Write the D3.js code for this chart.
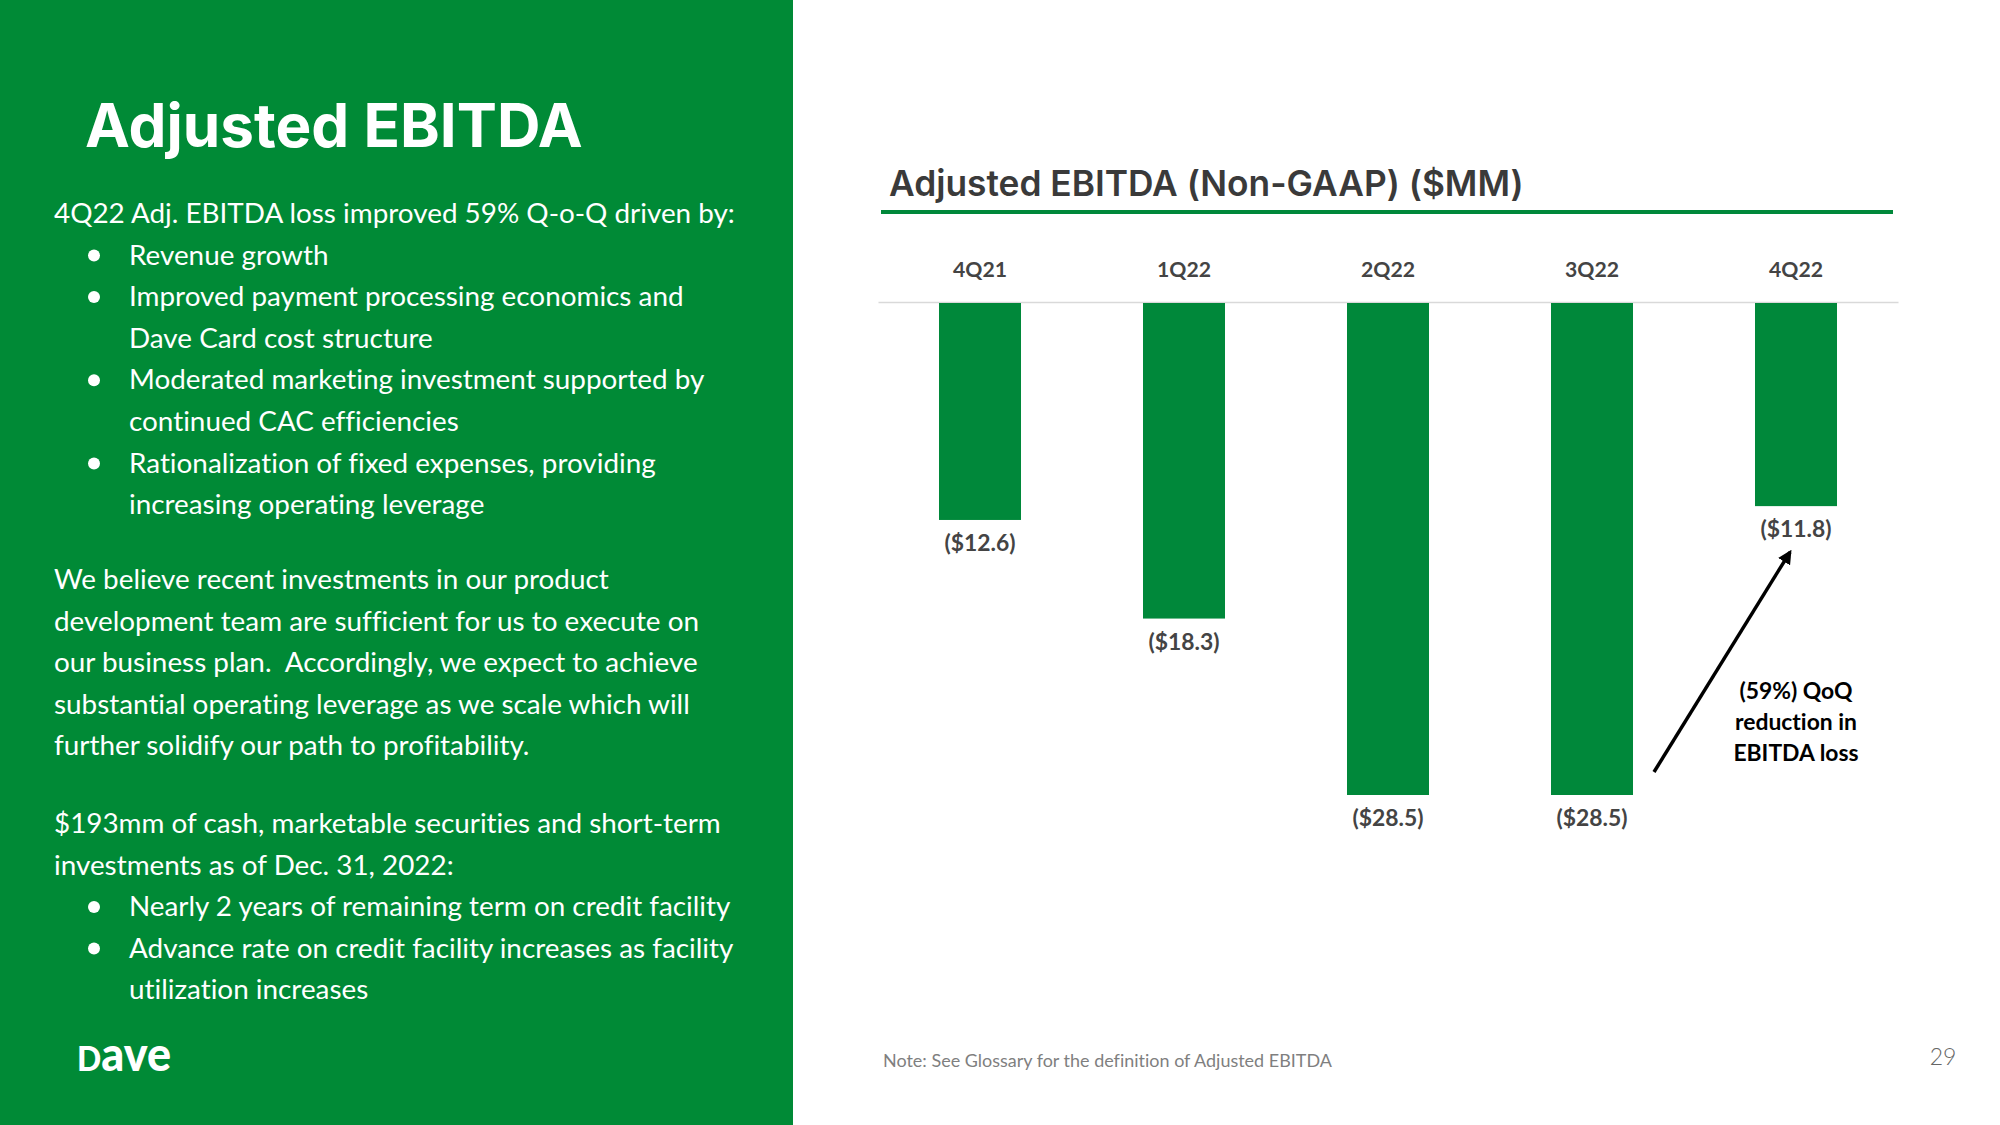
<!DOCTYPE html>
<html>
<head>
<meta charset="utf-8">
<script src="https://cdn.jsdelivr.net/npm/d3@7"></script>
<style>
  html, body { margin: 0; padding: 0; background: #ffffff; }
  svg { display: block; }
  text { font-variant-ligatures: none; font-feature-settings: "liga" 0, "dlig" 0; white-space: pre; }
</style>
</head>
<body>
<svg id="chart" width="2000" height="1125"></svg>
<script>
// ---------- data ----------
const categories = ["4Q21", "1Q22", "2Q22", "3Q22", "4Q22"];
const values = [-12.6, -18.3, -28.5, -28.5, -11.8];
const valueLabels = ["($12.6)", "($18.3)", "($28.5)", "($28.5)", "($11.8)"];
const chartTitle = "Adjusted EBITDA (Non-GAAP) ($MM)";
const pageTitle = "Adjusted EBITDA";
const annotationLines = ["(59%) QoQ", "reduction in", "EBITDA loss"];
const noteText = "Note: See Glossary for the definition of Adjusted EBITDA";
const pageNumber = "29";
const para1Lead = "4Q22 Adj. EBITDA loss improved 59% Q-o-Q driven by:";
const para1Bullets = [
  ["Revenue growth"],
  ["Improved payment processing economics and", "Dave Card cost structure"],
  ["Moderated marketing investment supported by", "continued CAC efficiencies"],
  ["Rationalization of fixed expenses, providing", "increasing operating leverage"]
];
const para2Lines = [
  "We believe recent investments in our product",
  "development team are sufficient for us to execute on",
  "our business plan.  Accordingly, we expect to achieve",
  "substantial operating leverage as we scale which will",
  "further solidify our path to profitability."
];
const para3Lead = ["$193mm of cash, marketable securities and short-term", "investments as of Dec. 31, 2022:"];
const para3Bullets = [
  ["Nearly 2 years of remaining term on credit facility"],
  ["Advance rate on credit facility increases as facility", "utilization increases"]
];

// ---------- setup ----------
const svg = d3.select("#chart");
const GREEN = "#008a36";
const BAR_GREEN = "#00883a";
const bodyFont = "Lato, 'Source Sans Pro', sans-serif";
const headFont = "Inter, Montserrat, sans-serif";

function fitSize(text, family, weight, target, base) {
  const t = svg.append("text").attr("font-family", family).attr("font-weight", weight)
    .attr("font-size", base).text(text);
  const w = t.node().getComputedTextLength();
  t.remove();
  return base * target / w;
}

// left panel
svg.append("rect").attr("x", 0).attr("y", 0).attr("width", 793).attr("height", 1125).attr("fill", GREEN);

const titleSize = fitSize(pageTitle, headFont, 700, 498, 60);
svg.append("text").attr("x", 85).attr("y", 147)
  .attr("font-family", headFont).attr("font-weight", 700).attr("font-size", titleSize)
  .attr("fill", "#ffffff").text(pageTitle);

const bodySize = fitSize(para1Lead, bodyFont, 400, 681, 28);
const lineH = 41.6;
const leftX = 54, bulletX = 94, bulletTextX = 129;
const body = svg.append("g").attr("font-family", bodyFont).attr("font-size", bodySize).attr("fill", "#ffffff");

function addLine(x, y, txt) { body.append("text").attr("x", x).attr("y", y).text(txt); }
function addBullet(y) {
  body.append("circle").attr("cx", bulletX).attr("cy", y - bodySize * 0.33).attr("r", 6).attr("fill", "#fff");
}

let y = 223;
addLine(leftX, y, para1Lead);
para1Bullets.forEach(b => {
  y += lineH; addBullet(y);
  b.forEach((l, i) => { if (i > 0) y += lineH; addLine(bulletTextX, y, l); });
});
y = 589;
para2Lines.forEach((l, i) => { addLine(leftX, y + i * lineH, l); });
y = 833;
para3Lead.forEach((l, i) => { if (i > 0) y += lineH; addLine(leftX, y, l); });
para3Bullets.forEach(b => {
  y += lineH; addBullet(y);
  b.forEach((l, i) => { if (i > 0) y += lineH; addLine(bulletTextX, y, l); });
});

// logo: "D" cap with "ave" enlarged so all glyphs share one height
const logo = svg.append("text").attr("x", 77).attr("y", 1071)
  .attr("font-family", "Lato").attr("font-weight", 900).attr("fill", "#ffffff")
  .attr("textLength", 94).attr("lengthAdjust", "spacingAndGlyphs");
logo.append("tspan").attr("font-size", 34).text("D");
logo.append("tspan").attr("font-size", 48).text("ave");

// ---------- chart ----------
const ctSize = fitSize(chartTitle, headFont, 600, 635, 32);
svg.append("text").attr("x", 889).attr("y", 196)
  .attr("font-family", headFont).attr("font-weight", 600).attr("font-size", ctSize)
  .attr("fill", "#3a3a3a").text(chartTitle);
svg.append("rect").attr("x", 881).attr("y", 210).attr("width", 1012).attr("height", 4).attr("fill", BAR_GREEN);

const x = d3.scaleBand().domain(categories).range([878, 1898])
  .paddingInner(0.598).paddingOuter(0.299);
const yScale = d3.scaleLinear().domain([0, -28.5]).range([302, 795]);

const catSize = fitSize("4Q21", bodyFont, 700, 54, 20);
const xAxis = svg.append("g").attr("transform", `translate(0,${yScale(0)})`)
  .call(d3.axisTop(x).tickSize(0).tickPadding(25));
xAxis.select(".domain").attr("stroke", "#d9d9d9").attr("stroke-width", 1.5);
xAxis.selectAll("text").attr("font-family", bodyFont).attr("font-weight", 700)
  .attr("font-size", catSize).attr("fill", "#444444");

svg.append("g").selectAll("rect").data(values).join("rect")
  .attr("x", (d, i) => x(categories[i]))
  .attr("y", yScale(0) + 1)
  .attr("width", x.bandwidth())
  .attr("height", d => yScale(d) - yScale(0) - 1)
  .attr("fill", BAR_GREEN);

const valSize = catSize * 1.08;
svg.append("g").selectAll("text").data(values).join("text")
  .attr("x", (d, i) => x(categories[i]) + x.bandwidth() / 2)
  .attr("y", d => yScale(d) + 31)
  .attr("text-anchor", "middle")
  .attr("font-family", bodyFont).attr("font-weight", 700).attr("font-size", valSize)
  .attr("fill", "#444444")
  .text((d, i) => valueLabels[i]);

// annotation arrow
const defs = svg.append("defs");
defs.append("marker").attr("id", "arrowhead").attr("viewBox", "0 0 10 10")
  .attr("refX", 8).attr("refY", 5).attr("markerWidth", 4).attr("markerHeight", 4)
  .attr("orient", "auto")
  .append("path").attr("d", "M0,0 L10,5 L0,10 Z").attr("fill", "#000");

const xFrom = x("3Q22") + x.bandwidth() + 21;
const yFrom = yScale(values[3]) - 23;
const xTo = x("4Q22") + x.bandwidth() / 2 - 6;
const yTo = yScale(values[4]) + 46;
svg.append("line").attr("x1", xFrom).attr("y1", yFrom).attr("x2", xTo).attr("y2", yTo)
  .attr("stroke", "#000").attr("stroke-width", 3.5).attr("marker-end", "url(#arrowhead)");

const annX = x("4Q22") + x.bandwidth() / 2;
svg.append("g").selectAll("text").data(annotationLines).join("text")
  .attr("x", annX).attr("y", (d, i) => 699 + i * 31)
  .attr("text-anchor", "middle")
  .attr("font-family", bodyFont).attr("font-weight", 700).attr("font-size", valSize)
  .attr("fill", "#000000").text(d => d);

// footer
const noteSize = fitSize(noteText, bodyFont, 400, 449, 17);
svg.append("text").attr("x", 883).attr("y", 1067)
  .attr("font-family", bodyFont).attr("font-size", noteSize).attr("fill", "#7f7f7f").text(noteText);
svg.append("text").attr("x", 1943).attr("y", 1065).attr("text-anchor", "middle")
  .attr("font-family", bodyFont).attr("font-weight", 300).attr("font-size", 23)
  .attr("fill", "#666666").text(pageNumber);
</script>
</body>
</html>
